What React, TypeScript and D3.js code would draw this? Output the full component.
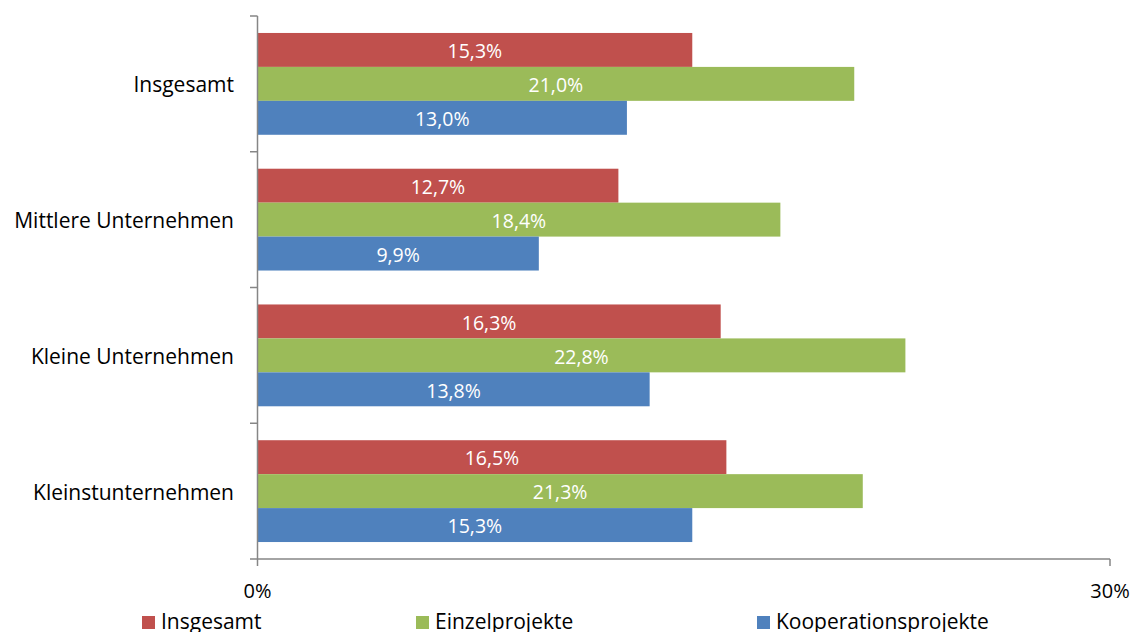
import React from "react";
import * as d3 from "d3";

const categories = ["Insgesamt", "Mittlere Unternehmen", "Kleine Unternehmen", "Kleinstunternehmen"];
const seriesNames = ["Insgesamt", "Einzelprojekte", "Kooperationsprojekte"];
const insgesamt = [15.3, 12.7, 16.3, 16.5];
const einzelprojekte = [21.0, 18.4, 22.8, 21.3];
const kooperationsprojekte = [13.0, 9.9, 13.8, 15.3];
const xTicks = [0, 30];
const colors = ["#C0504D", "#9BBB59", "#4F81BD"];

const W = 1133;
const H = 632;
const FONT = "'Open Sans', sans-serif";

export default function App() {
  const series = [insgesamt, einzelprojekte, kooperationsprojekte];
  const x = d3.scaleLinear().domain([0, 30]).range([257.5, 1110]);
  const y = d3.scaleBand<string>().domain(categories).range([16, 559]).paddingInner(0).paddingOuter(0);
  const inner = d3
    .scaleBand<string>()
    .domain(seriesNames)
    .range([0, y.bandwidth()])
    .paddingInner(0)
    .paddingOuter(0.5);
  const fmt = (v: number) => v.toFixed(1).replace(".", ",") + "%";
  const bandEdges = categories.map((c) => y(c)!).concat([y.range()[1]]);
  const legendX = [142, 416, 757];

  return (
    <svg
      width={W}
      height={H}
      style={{ position: "absolute", left: 0, top: 0, background: "#fff" }}
      fontFamily={FONT}
    >
      {categories.map((c, ci) => (
        <g key={c}>
          {series.map((s, si) => {
            const yy = y(c)! + inner(seriesNames[si])!;
            const h = inner.bandwidth();
            return (
              <g key={si}>
                <rect x={x(0)} y={yy} width={x(s[ci]) - x(0)} height={h} fill={colors[si]} />
                <text
                  x={(x(0) + x(s[ci])) / 2}
                  y={yy + h / 2}
                  dy="0.42em"
                  textAnchor="middle"
                  fill="#fff"
                  fontSize={19.5}
                >
                  {fmt(s[ci])}
                </text>
              </g>
            );
          })}
          <text x={234} y={y(c)! + y.bandwidth() / 2} dy="0.4em" textAnchor="end" fontSize={21} fill="#000">
            {c}
          </text>
        </g>
      ))}
      {/* y axis */}
      <line x1={257.5} x2={257.5} y1={y.range()[0]} y2={y.range()[1]} stroke="#868686" strokeWidth={1.5} />
      {bandEdges.map((e, i) => (
        <line key={i} x1={250} x2={257.5} y1={e} y2={e} stroke="#868686" strokeWidth={1.5} />
      ))}
      {/* x axis */}
      <line x1={257.5} x2={x(30)} y1={559} y2={559} stroke="#868686" strokeWidth={1.5} />
      {xTicks.map((t) => (
        <g key={t}>
          <line x1={x(t)} x2={x(t)} y1={559} y2={566} stroke="#868686" strokeWidth={1.5} />
          <text x={x(t)} y={598} textAnchor="middle" fontSize={20} fill="#000">
            {t + "%"}
          </text>
        </g>
      ))}
      {/* legend */}
      {seriesNames.map((n, i) => (
        <g key={n}>
          <rect x={legendX[i]} y={616} width={13} height={13} fill={colors[i]} />
          <text x={legendX[i] + 19} y={629} fontSize={21} fill="#000">
            {n}
          </text>
        </g>
      ))}
    </svg>
  );
}
